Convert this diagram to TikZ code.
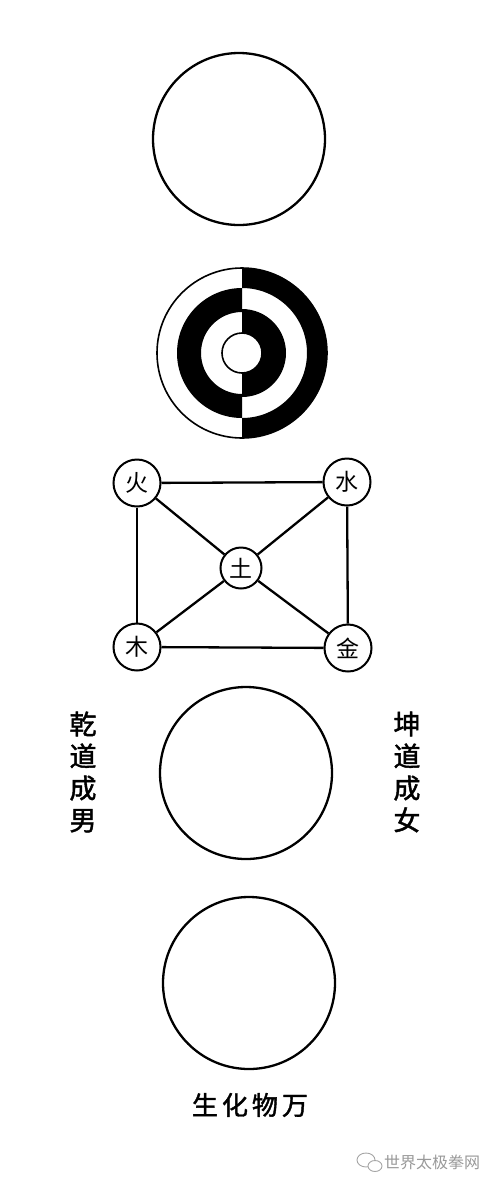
\documentclass[tikz,border=0pt]{standalone}
\usepackage{fontspec}
\newfontfamily\cjk{Noto Sans CJK SC}
\newfontfamily\cjkheavy[FakeBold=1.6]{Noto Sans CJK SC}
\begin{document}
\begin{tikzpicture}[x=1pt,y=-1pt,
        elem/.style={circle, draw, line width=2pt, minimum size=47pt, inner sep=0pt, fill=white,
            font=\cjk\fontsize{23}{23}\selectfont},
        link/.style={line width=2.3pt},
        ring/.style={line width=2.3pt},
        vlabel/.style={align=center, inner sep=0pt, font=\cjkheavy\fontsize{27}{32}\selectfont}]
        \useasboundingbox (0,0) rectangle (500,1187);
        \def\wujicircle{(239,139) circle (86pt)}
        \def\outercircle{(242,353) circle (85pt)}
        \def\innercircle{(242,353) circle (20pt)}
        \def\qiancircle{(246,773) circle (86pt)}
        \def\wanwucircle{(249,983) circle (86pt)}

        \draw[ring] \wujicircle;

        \begin{scope}
            \clip (242,200) rectangle (400,500);
            \fill[even odd rule] (242,353) circle (85pt) (242,353) circle (65pt);
            \fill[even odd rule] (242,353) circle (44pt) \innercircle;
        \end{scope}
        \begin{scope}
            \clip (80,200) rectangle (242,500);
            \fill[even odd rule] (242,353) circle (65pt) (242,353) circle (41pt);
        \end{scope}
        \draw[line width=1.6pt] \outercircle;
        \draw[line width=1.6pt] \innercircle;

        \node[elem] (huo) at (137,483) {火};
        \node[elem] (shui) at (347,482) {水};
        \node[elem, minimum size=41pt] (tu) at (241,568) {土};
        \node[elem] (mu) at (137,647) {木};
        \node[elem] (jin) at (348,648) {金};
        \draw[link] (huo) -- (shui);
        \draw[link] (huo) -- (mu);
        \draw[link] (shui) -- (jin);
        \draw[link] (mu) -- (jin);
        \draw[link] (huo) -- (tu) -- (jin);
        \draw[link] (shui) -- (tu) -- (mu);

        \draw[ring] \qiancircle;
        \node[vlabel] (qiandao) at (83,772) {乾\\道\\成\\男};
        \node[vlabel] (kundao) at (407,772) {坤\\道\\成\\女};

        \draw[ring] \wanwucircle;
        \node[vlabel, font=\cjkheavy\fontsize{26}{26}\selectfont] (wanwu) at (250,1105)
            {生\hspace{4pt}化\hspace{4pt}物\hspace{4pt}万};

        \draw[gray!70, line width=0.9pt] (366,1160) ellipse (9pt and 7pt);
        \draw[gray!70, line width=0.9pt, fill=white] (375,1166) ellipse (7pt and 5.5pt);
        \node[right, inner sep=0pt, text=gray!80, font=\cjk\fontsize{16}{16}\selectfont] (mark) at (384,1162)
            {世界太极拳网};
\end{tikzpicture}
\end{document}
